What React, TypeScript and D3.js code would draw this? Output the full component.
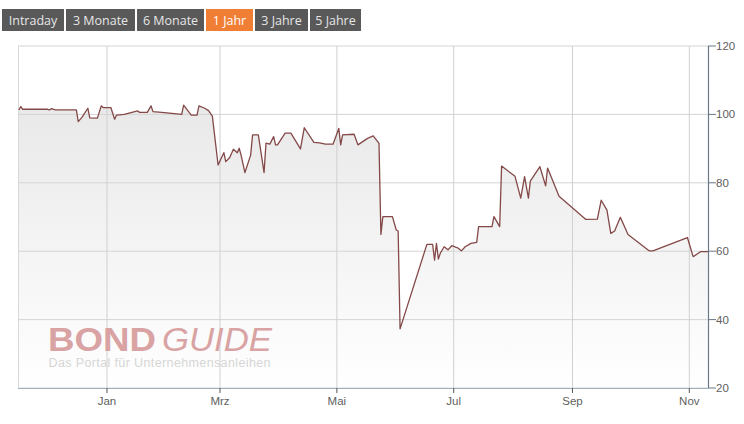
import React from "react";
import * as d3 from "d3";

const buttons = ["Intraday", "3 Monate", "6 Monate", "1 Jahr", "3 Jahre", "5 Jahre"];
const buttonEdges = [2, 66, 137, 206, 255, 310, 363];
const selectedButton = "1 Jahr";

const dates = [
  "2022-11-16", "2022-11-17", "2022-11-18", "2022-12-01", "2022-12-02", "2022-12-03", "2022-12-05",
  "2022-12-16", "2022-12-17", "2022-12-19", "2022-12-22", "2022-12-23", "2022-12-27", "2022-12-29",
  "2022-12-30", "2023-01-03", "2023-01-05", "2023-01-06", "2023-01-10", "2023-01-17", "2023-01-18",
  "2023-01-22", "2023-01-24", "2023-01-25", "2023-01-31", "2023-02-09", "2023-02-10", "2023-02-14",
  "2023-02-17", "2023-02-18", "2023-02-21", "2023-02-23", "2023-02-25", "2023-02-28", "2023-03-02",
  "2023-03-03", "2023-03-04", "2023-03-06", "2023-03-08", "2023-03-10", "2023-03-11", "2023-03-12",
  "2023-03-14", "2023-03-17", "2023-03-18", "2023-03-21", "2023-03-24", "2023-03-25", "2023-03-27",
  "2023-03-29", "2023-03-30", "2023-03-31", "2023-04-04", "2023-04-07", "2023-04-12", "2023-04-14",
  "2023-04-19", "2023-04-22", "2023-04-25", "2023-04-29", "2023-05-02", "2023-05-03", "2023-05-04",
  "2023-05-10", "2023-05-12", "2023-05-17", "2023-05-20", "2023-05-23", "2023-05-24", "2023-05-25",
  "2023-05-30", "2023-06-01", "2023-06-02", "2023-06-03", "2023-06-17", "2023-06-20", "2023-06-21",
  "2023-06-22", "2023-06-23", "2023-06-24", "2023-06-26", "2023-06-28", "2023-06-30", "2023-07-03",
  "2023-07-05", "2023-07-07", "2023-07-10", "2023-07-13", "2023-07-14", "2023-07-21", "2023-07-22",
  "2023-07-25", "2023-07-26", "2023-08-02", "2023-08-05", "2023-08-07", "2023-08-09", "2023-08-10",
  "2023-08-15", "2023-08-18", "2023-08-19", "2023-08-25", "2023-09-08", "2023-09-14", "2023-09-16",
  "2023-09-19", "2023-09-21", "2023-09-23", "2023-09-26", "2023-09-30", "2023-10-11", "2023-10-13",
  "2023-10-31", "2023-11-03", "2023-11-07", "2023-11-11",
];

const prices = [
  101.3, 102.3, 101.5, 101.5, 101.3, 101.7, 101.3,
  101.3, 97.9, 99.2, 101.8, 99.0, 98.9, 102.5,
  102.0, 102.0, 98.6, 99.8, 100.0, 101.0, 100.6,
  100.6, 102.5, 100.8, 100.5, 100.0, 102.7, 99.8,
  99.8, 102.5, 101.8, 101.1, 99.5, 85.2, 87.6,
  88.8, 86.2, 87.3, 89.8, 88.8, 90.1, 88.1,
  83.0, 88.1, 94.0, 94.0, 83.0, 91.6, 91.3,
  93.5, 91.1, 91.1, 94.5, 94.5, 89.9, 96.1,
  91.8, 91.7, 91.3, 91.3, 95.9, 91.1, 94.0,
  94.2, 91.1, 93.0, 93.7, 91.5, 64.9, 70.1,
  70.1, 66.2, 65.9, 37.3, 62.0, 62.0, 57.4,
  62.3, 57.7, 59.4, 61.3, 60.4, 61.6, 61.0,
  60.1, 61.3, 62.3, 62.6, 67.2, 67.2, 70.1,
  67.2, 84.9, 81.9, 75.5, 81.8, 75.5, 80.5,
  84.7, 79.1, 84.3, 76.1, 69.3, 69.4, 74.9,
  72.0, 65.2, 65.9, 69.9, 64.9, 60.1, 60.1,
  64.0, 58.4, 59.9, 59.9,
];

const monthTickDates = ["2023-01-01", "2023-03-01", "2023-05-01", "2023-07-01", "2023-09-01", "2023-11-01"];
const monthTickLabels = ["Jan", "Mrz", "Mai", "Jul", "Sep", "Nov"];
const yTicks = [20, 40, 60, 80, 100, 120];

const W = 744;
const H = 424;
const left = 18;
const right = 708;
const top = 46;
const bottom = 388;

export default function App() {
  const parse = (s: string) => new Date(s + "T00:00:00Z");
  const t0 = Date.UTC(2023, 0, 1);
  const dayMs = 86400000;
  const pxPerDay = 1.9155;
  const janX = 107;
  const x = d3
    .scaleUtc()
    .domain([new Date(t0 - ((janX - left) / pxPerDay) * dayMs), new Date(t0 + ((right - janX) / pxPerDay) * dayMs)])
    .range([left, right]);
  const y = d3.scaleLinear().domain([20, 120]).range([bottom, top]);

  const data = dates.map((d, i) => ({ date: parse(d), v: prices[i] }));
  const line = d3
    .line<{ date: Date; v: number }>()
    .x((d) => x(d.date))
    .y((d) => y(d.v));
  const area = d3
    .area<{ date: Date; v: number }>()
    .x((d) => x(d.date))
    .y0(bottom)
    .y1((d) => y(d.v));

  const labelFont = "'Liberation Sans', Arial, sans-serif";

  return (
    <svg width={W} height={H} style={{ position: "absolute", left: 0, top: 0, background: "#fff" }}>
      <defs>
        <linearGradient id="areaGrad" x1="0" y1={top} x2="0" y2={bottom} gradientUnits="userSpaceOnUse">
          <stop offset="0" stopColor="#e4e4e4" />
          <stop offset="1" stopColor="#ffffff" />
        </linearGradient>
      </defs>
      {buttons.map((b, i) => {
        const x0 = buttonEdges[i];
        const x1 = buttonEdges[i + 1] - 2;
        const sel = b === selectedButton;
        return (
          <g key={b}>
            <rect x={x0} y={9} width={x1 - x0} height={22} fill={sel ? "#f07e35" : "#595959"} />
            <text
              x={(x0 + x1) / 2}
              y={24.5}
              textAnchor="middle"
              fontFamily="'Open Sans', sans-serif"
              fontSize={12.5}
              fill={sel ? "#ffffff" : "#e6e6e6"}
            >
              {b}
            </text>
          </g>
        );
      })}
      <path d={area(data) || ""} fill="url(#areaGrad)" />
      {yTicks.map((t) => (
        <line key={"gy" + t} x1={left} x2={right} y1={y(t)} y2={y(t)} stroke="#d4d4d4" strokeWidth={1} />
      ))}
      {monthTickDates.map((d) => (
        <line key={"gx" + d} x1={x(parse(d))} x2={x(parse(d))} y1={top} y2={bottom} stroke="#d0d0d0" strokeWidth={1} />
      ))}
      <line x1={left + 0.5} x2={left + 0.5} y1={top} y2={bottom} stroke="#d8d8d8" />
      <g>
        <text x={48} y={351} fontFamily={labelFont} fontSize={33} fill="#d9a3a3" fontWeight="bold" textLength={108} lengthAdjust="spacingAndGlyphs">
          BOND
        </text>
        <text x={162} y={351} fontFamily={labelFont} fontSize={33} fill="#d9a3a3" fontStyle="italic" textLength={110} lengthAdjust="spacingAndGlyphs">
          GUIDE
        </text>
        <text x={48.5} y={366.5} fontFamily={labelFont} fontSize={12.5} fill="#d6d6d6" textLength={222}>
          Das Portal für Unternehmensanleihen
        </text>
      </g>
      <path d={line(data) || ""} fill="none" stroke="#844848" strokeWidth={1.3} strokeLinejoin="round" />
      <line x1={left} x2={right} y1={bottom + 0.5} y2={bottom + 0.5} stroke="#a3b0c0" strokeWidth={1} />
      {monthTickDates.map((d, i) => (
        <g key={"tx" + d}>
          <line x1={x(parse(d))} x2={x(parse(d))} y1={bottom} y2={bottom + 5} stroke="#555" strokeWidth={1} />
          <text x={x(parse(d))} y={405} textAnchor="middle" fontFamily={labelFont} fontSize={11.5} fill="#606060">
            {monthTickLabels[i]}
          </text>
        </g>
      ))}
      <line x1={right + 0.5} x2={right + 0.5} y1={top} y2={bottom} stroke="#6a7888" strokeWidth={1.2} />
      {yTicks.map((t) => (
        <g key={"ty" + t}>
          <line x1={right} x2={right + 8} y1={y(t)} y2={y(t)} stroke="#6a7888" strokeWidth={1} />
          <text x={716} y={y(t) + 4} fontFamily={labelFont} fontSize={11.5} fill="#606060">
            {t}
          </text>
        </g>
      ))}
    </svg>
  );
}
